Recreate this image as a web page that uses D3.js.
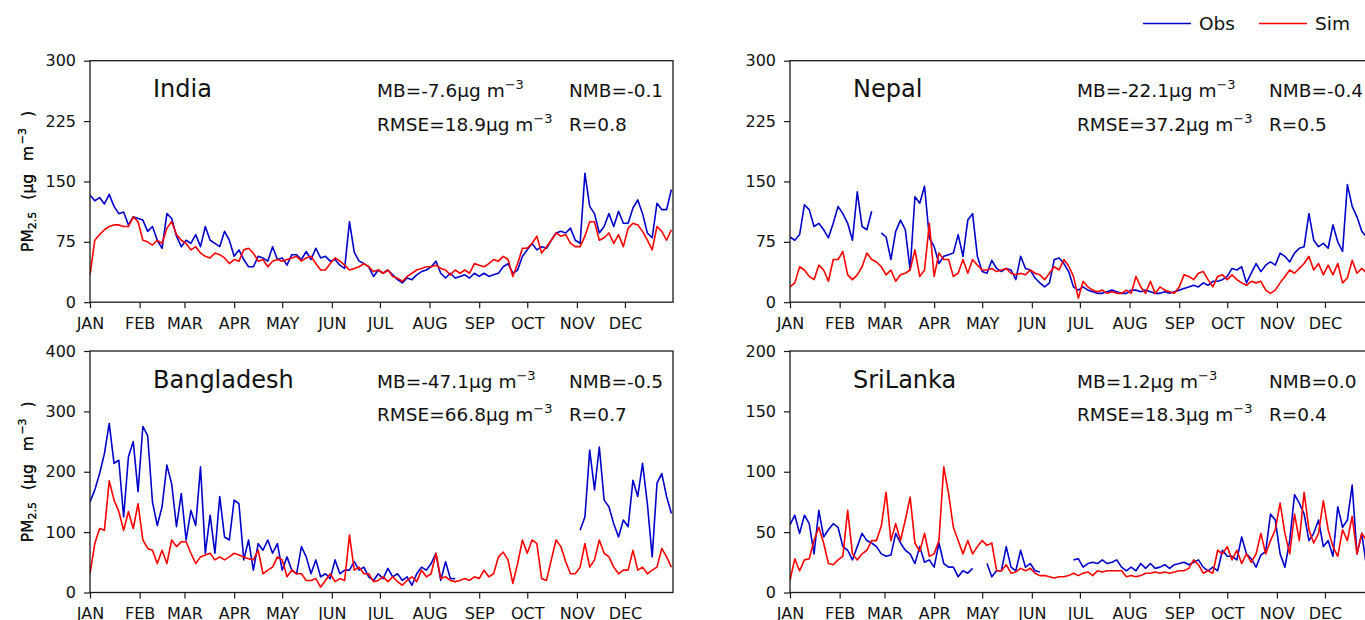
<!DOCTYPE html>
<meta charset="utf-8">
<style>
body { margin: 0; background: #fff; }
svg, svg text { font-family: "DejaVu Sans", sans-serif; }
.axis text { font-size: 16px; fill: #111; font-family: "DejaVu Sans", sans-serif; }
.axis line { stroke: #1a1a1a; stroke-width: 1.2; }
.axis .domain { display: none; }
.frame { fill: none; stroke: #1a1a1a; stroke-width: 1.3; }
.title { font-size: 24px; fill: #111; }
.stat { font-size: 18.5px; fill: #111; }
.ylab { font-size: 15.5px; fill: #111; }
</style>
<body>
<script src="https://d3js.org/d3.v7.min.js"></script>
<script>

// daily PM2.5, one value every 3 days from 1 Jan (null = no obs)
var step = 3;
var yearStart = new Date(2019, 0, 1), yearEnd = new Date(2019, 11, 31);

var indiaObs = [133,126,130,122,134,119,110,112,96,106,
  104,102,88,94,77,67,110,104,82,69,
  77,73,84,69,94,77,73,69,88,77,
  57,65,53,44,44,57,55,51,69,53,
  55,46,59,59,53,63,53,67,55,57,
  51,53,46,42,100,62,51,48,44,32,
  40,36,40,34,28,24,30,28,34,38,
  40,44,51,36,30,36,30,32,34,30,
  36,32,36,32,34,36,44,48,36,40,
  57,65,73,65,69,67,77,86,88,86,
  92,77,73,160,119,110,86,94,110,94,
  113,98,98,117,127,110,86,80,123,115,
  115,140];
var indiaSim = [34,77,84,90,94,96,96,94,94,106,
  100,77,75,71,77,73,92,100,84,77,
  73,65,69,61,57,55,61,59,55,48,
  53,51,65,67,61,51,53,44,51,53,
  51,53,55,57,51,55,57,48,40,40,
  48,55,51,46,40,42,44,48,44,38,
  40,36,40,32,30,26,32,36,40,42,
  44,44,46,42,40,34,40,36,40,36,
  48,46,44,48,53,51,57,53,32,48,
  67,67,73,82,61,69,77,86,82,84,
  73,69,69,82,100,100,77,80,86,73,
  84,69,92,98,96,88,77,65,94,88,
  77,90];

var nepalObs = [81,77,84,121,115,94,98,90,80,98,
  119,110,98,77,137,94,90,113,null,86,
  81,53,88,102,90,40,131,123,144,80,
  69,48,57,59,61,84,57,102,110,57,
  38,36,52,42,38,42,40,28,57,42,
  40,30,24,19,24,53,55,48,38,19,
  15,19,15,13,11,11,13,15,13,11,
  11,15,15,13,15,13,11,11,13,11,
  13,15,17,19,21,19,24,21,26,26,
  28,32,42,40,44,24,36,48,38,46,
  50,46,61,57,50,61,67,69,110,77,
  69,73,67,96,75,63,146,119,106,88,
  81,80];
var nepalSim = [19,24,44,40,32,28,46,40,26,53,
  53,63,34,28,34,44,61,53,50,44,
  34,40,26,34,36,40,65,32,40,98,
  32,61,53,53,32,36,53,36,53,46,
  40,40,42,38,40,42,36,34,36,34,
  40,36,34,28,36,44,40,53,45,32,
  5,26,19,15,13,15,11,13,11,11,
  15,11,32,19,11,26,11,19,15,13,
  11,19,34,32,28,36,38,28,19,32,
  34,28,34,28,24,21,26,24,26,15,
  11,15,24,32,40,36,42,48,57,40,
  48,34,46,34,48,24,30,52,36,42,
  36,40];

var bangladeshObs = [150,170,197,230,280,214,219,125,225,250,
  167,275,260,150,111,142,211,180,109,164,
  87,136,111,208,65,128,65,159,92,87,
  153,147,54,87,37,81,70,87,65,81,
  37,59,37,31,76,59,31,54,26,31,
  23,54,31,37,37,51,37,42,26,20,
  31,23,40,26,31,20,26,12,31,42,
  37,48,65,20,51,23,23,null,null,null,
  null,null,null,null,null,null,null,null,null,null,
  null,null,null,null,null,null,null,null,null,null,
  null,null,103,125,236,170,241,153,142,114,
  92,120,109,186,159,214,147,59,181,197,
  159,131];
var bangladeshSim = [31,81,106,103,185,153,134,103,134,106,
  147,87,73,70,48,70,48,87,76,84,
  84,65,48,59,62,65,54,59,54,59,
  65,62,59,56,54,70,31,37,42,59,
  54,26,37,31,31,20,20,23,9,20,
  31,18,23,20,95,37,42,31,31,18,
  20,26,18,26,18,12,20,26,18,37,
  26,31,65,23,26,20,18,20,23,20,
  26,23,37,26,31,59,67,54,15,48,
  87,65,87,81,23,20,54,87,76,51,
  31,31,42,81,42,54,87,65,59,42,
  31,37,37,70,37,42,31,37,42,73,
  59,42];

var sriLankaObs = [56,64,49,64,57,32,68,46,52,57,
  54,38,35,27,38,49,43,41,38,32,
  30,31,49,41,35,32,24,38,25,27,
  21,41,24,21,21,13,18,16,20,null,
  null,24,13,18,18,38,21,18,35,21,
  24,18,17,null,null,null,null,null,null,27,
  28,21,24,25,24,27,24,25,27,21,
  18,21,18,24,20,24,20,21,23,20,
  23,24,25,23,25,27,21,18,21,18,
  35,30,30,27,46,32,28,21,31,34,
  65,60,32,21,43,81,74,65,43,49,
  60,38,43,30,71,54,60,89,32,49,
  21,40];
var sriLankaSim = [10,28,18,27,28,43,54,41,24,23,
  27,30,68,32,27,32,35,43,43,55,
  83,43,57,43,60,79,41,34,49,30,
  32,43,104,82,54,43,32,43,32,38,
  43,39,41,18,18,23,16,17,20,18,
  20,16,14,14,13,12,13,13,14,16,
  14,16,17,14,18,17,18,18,18,18,
  13,14,13,14,16,16,17,16,17,16,
  17,18,18,20,27,23,16,18,16,35,
  32,38,27,35,24,32,25,32,49,32,
  43,52,74,49,32,65,43,83,52,41,
  49,76,52,38,30,52,43,63,32,49,
  43,45];

// y tick labels per panel
var indiaTicks = [0, 75, 150, 225, 300];
var nepalTicks = [0, 75, 150, 225, 300];
var bangladeshTicks = [0, 100, 200, 300, 400];
var sriLankaTicks = [0, 50, 100, 150, 200];

// MB, NMB, RMSE, R
var indiaStats = ["-7.6", "-0.1", "18.9", "0.8"];
var nepalStats = ["-22.1", "-0.4", "37.2", "0.5"];
var bangladeshStats = ["-47.1", "-0.5", "66.8", "0.7"];
var sriLankaStats = ["1.2", "0.0", "18.3", "0.4"];

var obsColor = "#0000cd", simColor = "#ff0000";

var panels = [
  {name: "India", obs: indiaObs, sim: indiaSim, ticks: indiaTicks, stats: indiaStats, left: 90, top: 60.7},
  {name: "Nepal", obs: nepalObs, sim: nepalSim, ticks: nepalTicks, stats: nepalStats, left: 790, top: 60.7},
  {name: "Bangladesh", obs: bangladeshObs, sim: bangladeshSim, ticks: bangladeshTicks, stats: bangladeshStats, left: 90, top: 351},
  {name: "SriLanka", obs: sriLankaObs, sim: sriLankaSim, ticks: sriLankaTicks, stats: sriLankaStats, left: 790, top: 351}
];
var width = 583, height = 241.5;

var svg = d3.select("body").append("svg")
    .attr("width", 1365)
    .attr("height", 620);

var x = d3.scaleTime().domain([yearStart, yearEnd]).range([0, width]);
var fmtMonth = d3.timeFormat("%b");

function dateAt(i) { return d3.timeDay.offset(yearStart, i * step); }

panels.forEach(function(p, k) {
  var y = d3.scaleLinear().domain([0, p.ticks[p.ticks.length - 1]]).range([height, 0]);
  var g = svg.append("g").attr("transform", "translate(" + p.left + "," + p.top + ")");

  g.append("clipPath").attr("id", "clip" + k)
    .append("rect").attr("width", width).attr("height", height);

  var line = d3.line()
      .defined(function(d) { return d != null; })
      .x(function(d, i) { return x(dateAt(i)); })
      .y(function(d) { return y(d); });

  var plot = g.append("g").attr("clip-path", "url(#clip" + k + ")");
  plot.append("path").datum(p.obs)
      .attr("fill", "none").attr("stroke", obsColor).attr("stroke-width", 1.6)
      .attr("stroke-linejoin", "round").attr("d", line);
  plot.append("path").datum(p.sim)
      .attr("fill", "none").attr("stroke", simColor).attr("stroke-width", 1.6)
      .attr("stroke-linejoin", "round").attr("d", line);

  g.append("g").attr("class", "axis")
      .call(d3.axisLeft(y).tickValues(p.ticks).tickSize(6).tickPadding(8))
      .attr("font-family", null).attr("font-size", null);

  g.append("g").attr("class", "axis")
      .attr("transform", "translate(0," + height + ")")
      .call(d3.axisBottom(x).ticks(d3.timeMonth.every(1))
        .tickFormat(function(d) { return fmtMonth(d).toUpperCase(); })
        .tickSize(6).tickPadding(9.5))
      .attr("font-family", null).attr("font-size", null);

  g.append("rect").attr("class", "frame").attr("width", width).attr("height", height);

  // y label  PM2.5 (µg m-3)
  var yl = g.append("text").attr("class", "ylab")
      .attr("transform", "translate(" + (32.5 - p.left) + "," + (height / 2) + ") rotate(-90)")
      .attr("text-anchor", "middle");
  yl.append("tspan").text("PM");
  yl.append("tspan").attr("font-size", 11).attr("dy", 3.5).text("2.5");
  yl.append("tspan").attr("dy", -3.5).attr("dx", 12).text("(µg");
  yl.append("tspan").attr("dx", 13).text("m");
  yl.append("tspan").attr("font-size", 11).attr("dy", -7).attr("dx", 1.5).text("−3");
  yl.append("tspan").attr("dy", 7).attr("dx", 11).text(")");

  // panel title + statistics
  g.append("text").attr("class", "title").attr("x", 63).attr("y", 36.7).text(p.name);

  function statLine(xx, yy, label, value) {
    var t = g.append("text").attr("class", "stat").attr("x", xx).attr("y", yy);
    t.append("tspan").text(label + value + "µg m");
    t.append("tspan").attr("font-size", 13).attr("dy", -8).text("−3");
  }
  statLine(287, 36.7, "MB=", p.stats[0]);
  statLine(287, 70, "RMSE=", p.stats[2]);
  g.append("text").attr("class", "stat").attr("x", 479).attr("y", 36.7).text("NMB=" + p.stats[1]);
  g.append("text").attr("class", "stat").attr("x", 479).attr("y", 70).text("R=" + p.stats[3]);
});

// legend
var legend = svg.append("g").selectAll("g")
    .data([["Obs", obsColor, 1143], ["Sim", simColor, 1259]])
  .enter().append("g")
    .attr("transform", function(d) { return "translate(" + d[2] + ",23.5)"; });
legend.append("line").attr("x2", 48)
    .attr("stroke", function(d) { return d[1]; }).attr("stroke-width", 1.6);
legend.append("text").attr("x", 56).attr("y", 6.2)
    .style("font-size", "18.5px").style("fill", "#111")
    .text(function(d) { return d[0]; });

</script>
</body>
